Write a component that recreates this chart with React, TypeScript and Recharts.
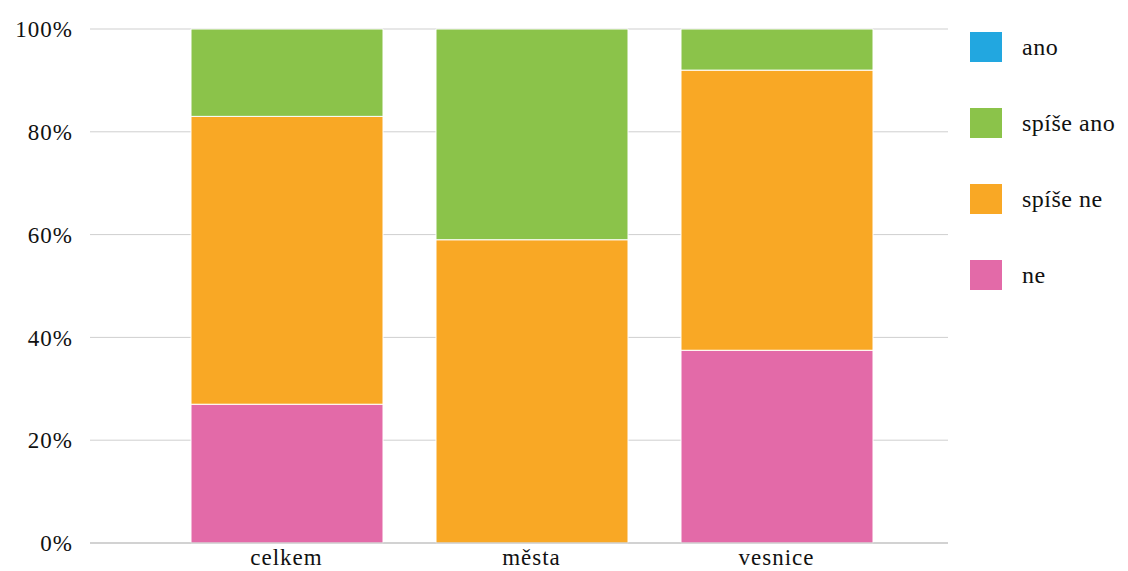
import { BarChart, Bar, XAxis, YAxis, CartesianGrid } from "recharts";

const categories = ["celkem", "města", "vesnice"];
const ano = [0, 0, 0];
const spiseAno = [17, 41, 8];
const spiseNe = [56, 59, 54.5];
const ne = [27, 0, 37.5];
const yTicks = [0, 20, 40, 60, 80, 100];

const data = categories.map((name, i) => ({
  name,
  ano: ano[i],
  spiseAno: spiseAno[i],
  spiseNe: spiseNe[i],
  ne: ne[i],
}));

const series = [
  { key: "ne", label: "ne", color: "#e36aa8" },
  { key: "spiseNe", label: "spíše ne", color: "#f9a825" },
  { key: "spiseAno", label: "spíše ano", color: "#8bc34a" },
  { key: "ano", label: "ano", color: "#22a7e0" },
];

const font = "Liberation Serif";

const tickStyle = { fill: "#111", fontSize: 23, fontFamily: font, letterSpacing: 1 };

const App = () => {
  return (
    <div style={{ position: "fixed", left: 0, top: 0, width: 1128, height: 571, background: "#fff", fontFamily: font }}>
      <BarChart
        width={1128}
        height={571}
        data={data}
        margin={{ top: 29, right: 180, bottom: 0, left: 0 }}
      >
        <CartesianGrid vertical={false} stroke="#cfcfcf" />
        <XAxis
          dataKey="name"
          height={28}
          padding={{ left: 74, right: 49 }}
          axisLine={{ stroke: "#bdbdbd" }}
          tickLine={false}
          tickSize={0}
          tickMargin={6}
          tick={tickStyle}
        />
        <YAxis
          width={90}
          domain={[0, 100]}
          ticks={yTicks}
          tickFormatter={(v) => `${v}%`}
          axisLine={false}
          tickLine={false}
          tickSize={0}
          tickMargin={17}
          tick={tickStyle}
        />
        {series.map((s) => (
          <Bar
            key={s.key}
            dataKey={s.key}
            name={s.label}
            stackId="a"
            fill={s.color}
            stroke="#fff"
            strokeWidth={1}
            barSize={192}
            isAnimationActive={false}
          />
        ))}
      </BarChart>
      <div style={{ position: "absolute", left: 970, top: 32, fontSize: 24, color: "#111", letterSpacing: 0.5 }}>
        {[...series].reverse().map((s) => (
          <div key={s.key} style={{ display: "flex", alignItems: "center", height: 30, marginBottom: 46 }}>
            <div style={{ width: 32, height: 30, background: s.color, marginRight: 20 }} />
            <span>{s.label}</span>
          </div>
        ))}
      </div>
    </div>
  );
};

export default App;
